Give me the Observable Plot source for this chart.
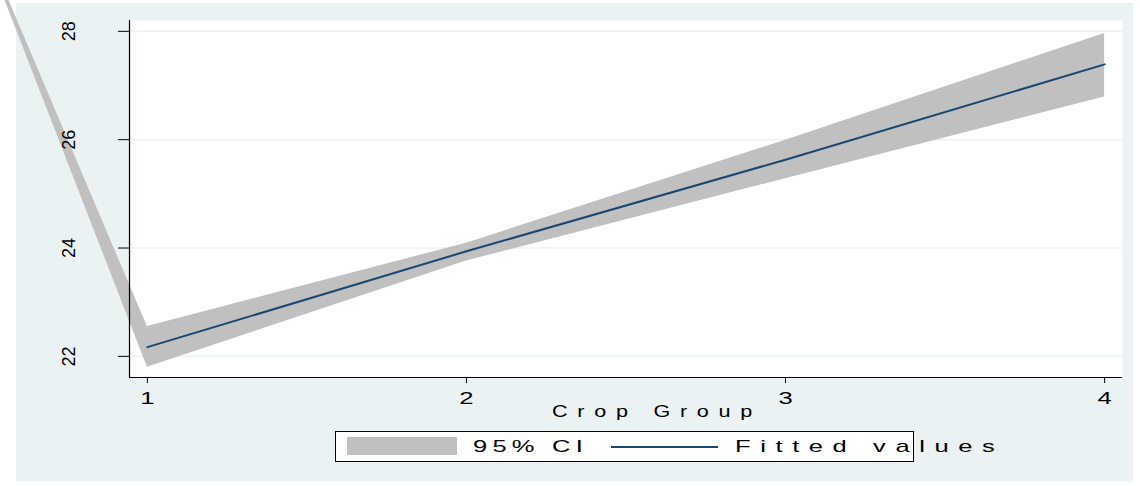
<!DOCTYPE html>
<html>
<head>
<meta charset="utf-8">
<script src="https://cdn.jsdelivr.net/npm/d3@7"></script>
<script src="https://cdn.jsdelivr.net/npm/@observablehq/plot@0.6"></script>
<style>
  html, body { margin: 0; padding: 0; background: white; }
  #wrap { position: relative; width: 1140px; height: 486px; background: white; overflow: hidden;
          font-family: "Liberation Sans", Arial, sans-serif; color: #000; }
  #bg { position: absolute; left: 16px; top: 3px; width: 1117px; height: 478px; background: #eaf2f3; }
  #chart { position: absolute; left: 0; top: 0; }
  #xlabel { position: absolute; left: 552px; top: 404px; font-size: 16px; line-height: 16px;
            letter-spacing: 7.2px; white-space: nowrap; transform: scaleX(1.35); transform-origin: 0 50%; }
  #legend { position: absolute; left: 335px; top: 431px; width: 579px; height: 31px; box-sizing: border-box;
            border: 1px solid #000; background: white; overflow: visible; }
  #legend .sw { position: absolute; left: 11px; top: 5px; width: 110px; height: 18px; background: #c0c0c0; }
  #legend .ln { position: absolute; left: 275px; top: 13.6px; width: 107px; height: 2px; background: #1a476f; }
  #legend .t { position: absolute; top: 6.4px; font-size: 17px; line-height: 17px; white-space: nowrap;
               transform: scaleX(1.5); transform-origin: 0 50%; }
</style>
</head>
<body>
<div id="wrap">
  <div id="bg"></div>
  <div id="chart"></div>
  <div id="xlabel"></div>
  <div id="legend"></div>
</div>
<script>
// ---- data ----
const xDomain = [0.944, 4.056];
const yDomain = [21.61, 28.2];
const xTicks = [1, 2, 3, 4];
const yTicks = [22, 24, 26, 28];

// 95% CI band (first point is the stray off-chart vertex seen in the original)
const ciX     = [0.42, 1, 2, 3, 4];
const ciLower = [30.6, 21.80, 23.76, 25.28, 26.79];
const ciUpper = [30.6, 22.55, 24.09, 25.99, 27.96];

// Fitted values
const fitX = [1, 2, 3, 4];
const fitY = [22.17, 23.94, 25.63, 27.39];

const xTitle = "Crop Group";
const legendLabels = ["95% CI", "Fitted values"];

// ---- build ----
const ci = ciX.map((x, i) => ({x, lo: ciLower[i], hi: ciUpper[i]}));
const fit = fitX.map((x, i) => ({x, y: fitY[i]}));

const chart = Plot.plot({
  width: 1140,
  height: 486,
  marginLeft: 129,
  marginRight: 18,
  marginTop: 20,
  marginBottom: 109,
  x: {domain: xDomain},
  y: {domain: yDomain},
  style: {background: "transparent", fontFamily: "'Liberation Sans', Arial, sans-serif", color: "#000"},
  marks: [
    Plot.frame({fill: "white", stroke: "none"}),
    Plot.gridY(yTicks, {stroke: "#eaf2f3", strokeOpacity: 1, strokeWidth: 1.5}),
    Plot.areaY(ci, {x: "x", y1: "lo", y2: "hi", fill: "#c0c0c0", fillOpacity: 1, curve: "linear"}),
    Plot.lineY(fit, {x: "x", y: "y", stroke: "#1a476f", strokeWidth: 2}),
    Plot.ruleX([xDomain[0]], {stroke: "#000", strokeWidth: 1.2}),
    Plot.ruleY([yDomain[0]], {stroke: "#000", strokeWidth: 1.2}),
    Plot.axisX(xTicks, {tickSize: 6, tickPadding: 9, fontSize: 16, tickFormat: d3.format("d"), label: null, stroke: "#000"}),
    Plot.axisY(yTicks, {tickSize: 11, tickRotate: -90, tickPadding: 44, fontSize: 18, tickFormat: d3.format("d"), label: null, stroke: "#000"})
  ]
});
document.getElementById("chart").appendChild(chart);

// widen the x tick labels horizontally (about their own centre), as in the original rendering
const xLabelSet = new Set(xTicks.map(String));
chart.querySelectorAll("text").forEach((el) => {
  const tr = el.getAttribute("transform") || "";
  if (tr.includes("rotate")) return;
  if (!xLabelSet.has(el.textContent.trim())) return;
  const bb = el.getBBox();
  const cx = bb.x + bb.width / 2;
  el.setAttribute("transform", `${tr} translate(${cx},0) scale(1.6,1) translate(${-cx},0)`);
});

document.getElementById("xlabel").textContent = xTitle;

const leg = document.getElementById("legend");
leg.innerHTML =
  `<div class="sw"></div>` +
  `<div class="t" style="left:137px;letter-spacing:3.5px">${legendLabels[0]}</div>` +
  `<div class="ln"></div>` +
  `<div class="t" style="left:399px;letter-spacing:6.4px">${legendLabels[1]}</div>`;
</script>
</body>
</html>
